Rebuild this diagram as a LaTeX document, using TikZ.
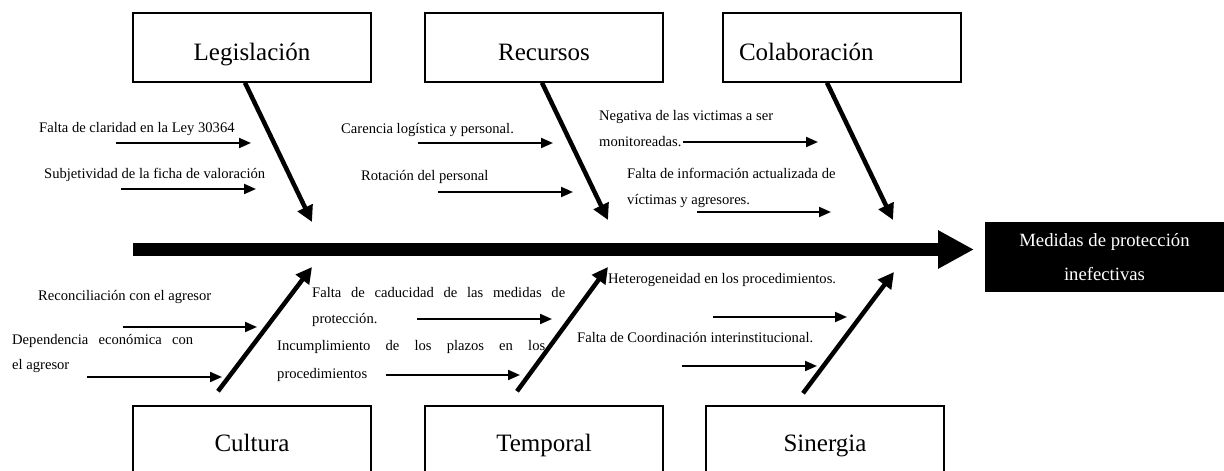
\documentclass[tikz,border=0pt]{standalone}
\usepackage{fontspec}
\setmainfont{Liberation Serif}
\usetikzlibrary{arrows.meta}
\begin{document}
\begin{tikzpicture}[x=1pt,y=-1pt,
  catbox/.style={draw, line width=1.5pt, inner sep=0pt, minimum width=238pt,
    font=\fontsize{25}{30}\selectfont},
  topbox/.style={catbox, minimum height=69pt, text height=25pt, text depth=0pt},
  botbox/.style={catbox, minimum height=90pt, text height=8pt, text depth=8pt},
  cause/.style={inner sep=0pt, anchor=base west, font=\fontsize{14.6}{17.5}\selectfont},
  subarrow/.style={-{Triangle[length=12pt,width=10pt]}, line width=2pt},
  bone/.style={-{Triangle[length=16pt,width=16pt]}, line width=4.5pt},
  spine/.style={-{Triangle[length=36pt,width=36pt]}, line width=13pt},
  result/.style={fill=black, text=white, inner sep=0pt, minimum width=239pt,
    minimum height=70pt, align=center, font=\fontsize{18.7}{34}\selectfont},
]
\clip (0,0) rectangle (1224,471);

% category boxes
\node[topbox] (leg) at (252,47.5) {Legislación};
\node[topbox] (rec) at (544,47.5) {Recursos};
\node[topbox, text width=206pt, align=left, inner xsep=16pt] (col) at (842,47.5) {Colaboración};
\node[botbox] (cul) at (252,451) {Cultura};
\node[botbox] (tem) at (544,451) {Temporal};
\node[botbox] (sin) at (825,451) {Sinergia};

% result
\node[result] (res) at (1104.5,257) {Medidas de protección\\inefectivas};

% spine
\coordinate (spS) at (133,249.5);
\coordinate (spE) at (974,249.5);
\draw[spine] (spS) -- (spE);

% bone tips
\coordinate (legT) at (312,222);
\coordinate (recT) at (608,220);
\coordinate (colT) at (893,220);
\coordinate (culT) at (312,267);
\coordinate (temT) at (608,267);
\coordinate (sinT) at (894,272);
\draw[bone] ([xshift=-7pt]leg.south) -- (legT);
\draw[bone] ([xshift=-2pt]rec.south) -- (recT);
\draw[bone] ([xshift=-15pt]col.south) -- (colT);
\draw[bone] ([xshift=-34pt,yshift=14pt]cul.north) -- (culT);
\draw[bone] ([xshift=-27pt,yshift=14pt]tem.north) -- (temT);
\draw[bone] ([xshift=-22pt,yshift=12pt]sin.north) -- (sinT);

% cause texts
\node[cause] (c1) at (39,132) {Falta de claridad en la Ley 30364};
\node[cause] (c2) at (44,178) {Subjetividad de la ficha de valoración};
\node[cause] (c3) at (341,133) {Carencia logística y personal.};
\node[cause] (c4) at (361,180) {Rotación del personal};
\node[cause] (c5a) at (599,120) {Negativa de las victimas a ser};
\node[cause] (c5b) at (599,146) {monitoreadas.};
\node[cause] (c6a) at (627,178) {Falta de información actualizada de};
\node[cause] (c6b) at (627,204) {víctimas y agresores.};
\node[cause] (c7) at (38,300) {Reconciliación con el agresor};
\node[cause] (c8a) at (12,344) {\makebox[181pt][s]{Dependencia económica con}};
\node[cause] (c8b) at (12,369) {el agresor};
\node[cause] (c9a) at (312,297) {\makebox[253pt][s]{Falta de caducidad de las medidas de}};
\node[cause] (c9b) at (312,323) {protección.};
\node[cause] (c10a) at (277,350) {\makebox[268pt][s]{Incumplimiento de los plazos en los}};
\node[cause] (c10b) at (277,378) {procedimientos};
\node[cause] (c11) at (608,283) {Heterogeneidad en los procedimientos.};
\node[cause] (c12) at (577,342) {Falta de Coordinación interinstitucional.};

% cause arrows
\coordinate (a1s) at (116,143);  \coordinate (a1e) at (251,143);
\coordinate (a2s) at (121,189);  \coordinate (a2e) at (256,189);
\coordinate (a3s) at (418,143);  \coordinate (a3e) at (553,143);
\coordinate (a4s) at (438,192);  \coordinate (a4e) at (573,192);
\coordinate (a5s) at (683,142);  \coordinate (a5e) at (818,142);
\coordinate (a6s) at (697,212);  \coordinate (a6e) at (831,212);
\coordinate (a7s) at (123,327);  \coordinate (a7e) at (257,327);
\coordinate (a8s) at (87,377);   \coordinate (a8e) at (222,377);
\coordinate (a9s) at (417,319);  \coordinate (a9e) at (552,319);
\coordinate (a10s) at (386,375); \coordinate (a10e) at (520,375);
\coordinate (a11s) at (713,317); \coordinate (a11e) at (847,317);
\coordinate (a12s) at (682,366); \coordinate (a12e) at (817,366);
\foreach \i in {1,...,12}{\draw[subarrow] (a\i s) -- (a\i e);}
\end{tikzpicture}
\end{document}
